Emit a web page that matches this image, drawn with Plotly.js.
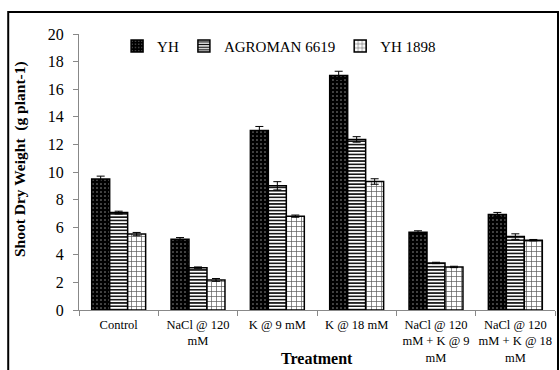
<!DOCTYPE html>
<html>
<head>
<meta charset="utf-8">
<script src="https://cdn.plot.ly/plotly-3.0.1.min.js"></script>
<style>html,body{margin:0;padding:0;background:#fff;}#chart{width:560px;height:370px;}</style>
</head>
<body>
<div id="chart"></div>
<script>
var categories = ["Control", "NaCl @ 120<br>mM", "K @ 9 mM", "K @ 18 mM", "NaCl @ 120<br>mM + K @ 9<br>mM", "NaCl @ 120<br>mM + K @ 18<br>mM"];
var seriesNames = ["YH", "AGROMAN 6619", "YH 1898"];
var yhValues = [9.5, 5.13, 13.0, 17.0, 5.64, 6.92];
var agromanValues = [7.06, 3.07, 9.0, 12.36, 3.41, 5.32];
var yh1898Values = [5.5, 2.18, 6.8, 9.31, 3.12, 5.06];
var yhErrors = [0.2, 0.12, 0.3, 0.3, 0.1, 0.15];
var agromanErrors = [0.1, 0.05, 0.3, 0.2, 0.05, 0.2];
var yh1898Errors = [0.12, 0.1, 0.08, 0.2, 0.05, 0.05];
var xTitle = "Treatment";
var yTitle = "Shoot Dry Weight  (g plant-1)";

var serif = "'Liberation Serif', 'Times New Roman', serif";
function mk(name, vals, errs, pattern) {
  return {
    type: "bar", name: name, x: categories, y: vals,
    error_y: {type: "data", array: errs, visible: true, color: "#000", thickness: 1, width: 4},
    marker: {color: pattern.bgcolor, line: {color: "#000", width: 1.5}, pattern: pattern}
  };
}
var data = [
  mk(seriesNames[0], yhValues, yhErrors, {shape: ".", fgcolor: "#9a9a9a", bgcolor: "#000000", size: 4, solidity: 0.12}),
  mk(seriesNames[1], agromanValues, agromanErrors, {shape: "-", fgcolor: "#000000", bgcolor: "#ffffff", size: 3.3, solidity: 0.45}),
  mk(seriesNames[2], yh1898Values, yh1898Errors, {shape: "+", fgcolor: "#555555", bgcolor: "#ffffff", size: 5, solidity: 0.25})
];
var layout = {
  width: 560, height: 370,
  margin: {l: 79, r: 5, t: 34, b: 60},
  paper_bgcolor: "#fff", plot_bgcolor: "#fff",
  font: {family: serif, color: "#000"},
  barmode: "group", bargap: 0.32, bargroupgap: 0,
  showlegend: true,
  legend: {orientation: "h", x: 0.08, xanchor: "left", y: 0.956, yanchor: "middle",
           font: {family: serif, size: 15, color: "#000"}, bgcolor: "rgba(0,0,0,0)"},
  xaxis: {
    type: "category", tickson: "boundaries", ticks: "outside", ticklen: 5, tickcolor: "#888",
    tickangle: 0, automargin: false, ticklabelstandoff: 3,
    showline: true, linecolor: "#888", linewidth: 1, showgrid: false,
    tickfont: {family: serif, size: 12.5, color: "#000"}
  },
  yaxis: {
    range: [0, 20], dtick: 2, ticks: "outside", ticklen: 5, tickcolor: "#888", automargin: false,
    ticklabelstandoff: 6,
    showline: true, linecolor: "#888", linewidth: 1, showgrid: false, zeroline: false,
    tickfont: {family: serif, size: 16, color: "#000"}
  },
  annotations: [
    {text: "<b>" + xTitle + "</b>", xref: "paper", yref: "paper", x: 0.5, y: -0.1775, xanchor: "center", yanchor: "middle",
     showarrow: false, font: {family: serif, size: 16, color: "#000"}},
    {text: "<b>" + yTitle + "</b>", xref: "paper", yref: "paper", x: -0.124, y: 0.547, xanchor: "center", yanchor: "middle",
     textangle: -90, showarrow: false, font: {family: serif, size: 15.5, color: "#000"}}
  ],
  shapes: [{type: "rect", xref: "paper", yref: "paper", x0: -0.1487, x1: 1.0063, y0: -0.25, y1: 1.0797,
            line: {color: "#000", width: 2}, fillcolor: "rgba(0,0,0,0)"}]
};
Plotly.newPlot("chart", data, layout, {displayModeBar: false, staticPlot: true});
</script>
</body>
</html>
